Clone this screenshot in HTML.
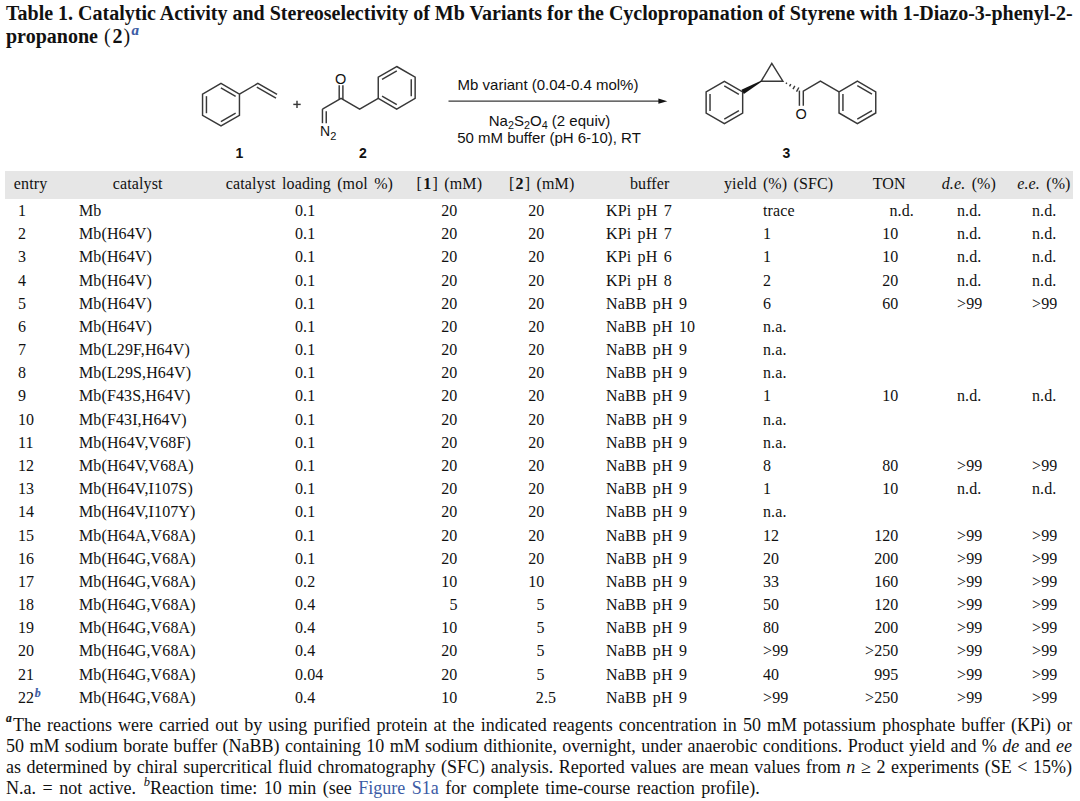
<!DOCTYPE html>
<html><head><meta charset="utf-8"><style>
html,body{margin:0;padding:0;background:#fff;}
body{width:1080px;height:801px;position:relative;overflow:hidden;color:#111;}
.t{position:absolute;white-space:nowrap;-webkit-text-stroke:0;}
.sup{font-size:70%;vertical-align:0.45em;line-height:0;}
.tb{letter-spacing:0.12px;word-spacing:2.2px;}
.sb{font-size:72%;position:relative;top:3px;}
svg{position:absolute;left:0;top:0;}
</style></head><body>
<svg width="1080" height="801" viewBox="0 0 1080 801" stroke="#383838" stroke-width="1.45" stroke-linecap="butt" stroke-linejoin="miter"><polygon fill="none" points="221.00,83.40 239.45,94.05 239.45,115.35 221.00,126.00 202.55,115.35 202.55,94.05"/><line x1="220.89" y1="87.84" x2="235.65" y2="96.36" stroke-width="1.45"/><line x1="235.65" y1="113.04" x2="220.89" y2="121.56" stroke-width="1.45"/><line x1="206.45" y1="113.22" x2="206.45" y2="96.18" stroke-width="1.45"/><polyline fill="none" points="239.45,94.05 257.85,83.40 277.05,94.40"/><line x1="256.80" y1="87.16" x2="276.00" y2="98.16" stroke-width="1.45"/><line x1="293.3" y1="104.4" x2="300.7" y2="104.4"/><line x1="297" y1="100.7" x2="297" y2="108.1"/><polygon fill="none" points="396.70,66.50 415.15,77.15 415.15,98.45 396.70,109.10 378.25,98.45 378.25,77.15"/><line x1="382.05" y1="79.46" x2="396.81" y2="70.94" stroke-width="1.45"/><line x1="411.25" y1="79.28" x2="411.25" y2="96.32" stroke-width="1.45"/><line x1="396.81" y1="104.66" x2="382.05" y2="96.14" stroke-width="1.45"/><polyline fill="none" points="378.25,98.45 359.65,109.05 341.05,98.45 322.45,109.05"/><line x1="339.20" y1="85.20" x2="339.20" y2="99.05" stroke-width="1.45"/><line x1="342.90" y1="85.20" x2="342.90" y2="99.05" stroke-width="1.45"/><line x1="322.45" y1="109.05" x2="322.45" y2="123.20" stroke-width="1.45"/><line x1="326.25" y1="111.25" x2="326.25" y2="123.20" stroke-width="1.45"/><polygon fill="none" points="724.40,81.40 742.67,91.95 742.67,113.05 724.40,123.60 706.13,113.05 706.13,91.95"/><line x1="724.28" y1="85.83" x2="738.90" y2="94.27" stroke-width="1.45"/><line x1="738.90" y1="110.73" x2="724.28" y2="119.17" stroke-width="1.45"/><line x1="710.03" y1="110.94" x2="710.03" y2="94.06" stroke-width="1.45"/><polygon fill="none" points="857.40,81.20 875.76,91.80 875.76,113.00 857.40,123.60 839.04,113.00 839.04,91.80"/><line x1="857.29" y1="85.64" x2="871.97" y2="94.12" stroke-width="1.45"/><line x1="871.97" y1="110.68" x2="857.29" y2="119.16" stroke-width="1.45"/><line x1="842.94" y1="110.88" x2="842.94" y2="93.92" stroke-width="1.45"/><polygon fill="none" points="761.2,81.2 771.8,63.3 782.9,81.2"/><polygon fill="#141414" stroke="none" points="760.90,80.68 761.50,81.72 743.88,94.03 741.47,89.87"/><line x1="786.04" y1="83.85" x2="786.79" y2="82.54" stroke-width="1.4"/><line x1="789.53" y1="86.46" x2="790.81" y2="84.20" stroke-width="1.4"/><line x1="793.01" y1="89.07" x2="794.84" y2="85.85" stroke-width="1.4"/><line x1="796.50" y1="91.68" x2="798.87" y2="87.50" stroke-width="1.4"/><polyline fill="none" points="803.30,105.80 803.30,91.20 820.40,81.10 839.04,91.80"/><line x1="799.40" y1="90.60" x2="799.40" y2="105.80" stroke-width="1.45"/><line x1="448.50" y1="101.20" x2="660.00" y2="101.20" stroke-width="1.3"/><polygon fill="#141414" stroke="none" points="667.3,101.2 658.4,98.6 658.4,103.8"/></svg>
<div class="t " style="left:6.00px;top:3.20px;font-size:20px;line-height:20px;font-family:'Liberation Serif', serif;font-weight:bold;white-space:nowrap;">Table 1. Catalytic Activity and Stereoselectivity of Mb Variants for the Cyclopropanation of Styrene with 1-Diazo-3-phenyl-2-</div>
<div class="t " style="left:6.00px;top:26.20px;font-size:20px;line-height:20px;font-family:'Liberation Serif', serif;font-weight:bold;white-space:nowrap;">propanone<span style="margin-left:1px"> </span><span style="font-weight:normal">(</span><span style="margin:0 1px 0 2px">2</span><span style="font-weight:normal">)</span><span style="font-weight:bold;font-style:italic;font-size:15px;position:relative;top:-8.5px;color:#3b5ba5;margin-left:1.2px;-webkit-text-stroke:0.15px currentColor;">a</span></div>
<div style="position:absolute;left:5px;top:171px;width:1068px;height:28px;background:#e6e6e6;"></div>
<div class="t tb" style="left:-89.45px;width:240px;text-align:center;top:176.20px;font-size:16px;line-height:16px;font-family:'Liberation Serif', serif;">entry</div>
<div class="t tb" style="left:17.75px;width:240px;text-align:center;top:176.20px;font-size:16px;line-height:16px;font-family:'Liberation Serif', serif;">catalyst</div>
<div class="t tb" style="left:189.45px;width:240px;text-align:center;top:176.20px;font-size:16px;line-height:16px;font-family:'Liberation Serif', serif;">catalyst loading (mol %)</div>
<div class="t tb" style="left:329.35px;width:240px;text-align:center;top:176.20px;font-size:16px;line-height:16px;font-family:'Liberation Serif', serif;">[<b style="margin:0 1.2px">1</b>] (mM)</div>
<div class="t tb" style="left:421.65px;width:240px;text-align:center;top:176.20px;font-size:16px;line-height:16px;font-family:'Liberation Serif', serif;">[<b style="margin:0 1.2px">2</b>] (mM)</div>
<div class="t tb" style="left:529.70px;width:240px;text-align:center;top:176.20px;font-size:16px;line-height:16px;font-family:'Liberation Serif', serif;">buffer</div>
<div class="t tb" style="left:658.65px;width:240px;text-align:center;top:176.20px;font-size:16px;line-height:16px;font-family:'Liberation Serif', serif;">yield (%) (SFC)</div>
<div class="t tb" style="left:769.20px;width:240px;text-align:center;top:176.20px;font-size:16px;line-height:16px;font-family:'Liberation Serif', serif;">TON</div>
<div class="t tb" style="left:848.90px;width:240px;text-align:center;top:176.20px;font-size:16px;line-height:16px;font-family:'Liberation Serif', serif;"><i>d.e.</i> (%)</div>
<div class="t tb" style="left:923.90px;width:240px;text-align:center;top:176.20px;font-size:16px;line-height:16px;font-family:'Liberation Serif', serif;"><i>e.e.</i> (%)</div>
<div class="t tb" style="left:18.00px;top:203.20px;font-size:16px;line-height:16px;font-family:'Liberation Serif', serif;">1</div>
<div class="t tb" style="left:79.00px;top:203.20px;font-size:16px;line-height:16px;font-family:'Liberation Serif', serif;">Mb</div>
<div class="t tb" style="left:295.00px;top:203.20px;font-size:16px;line-height:16px;font-family:'Liberation Serif', serif;">0.1</div>
<div class="t tb" style="left:397.50px;width:60px;text-align:right;top:203.20px;font-size:16px;line-height:16px;font-family:'Liberation Serif', serif;">20</div>
<div class="t tb" style="left:484.50px;width:60px;text-align:right;top:203.20px;font-size:16px;line-height:16px;font-family:'Liberation Serif', serif;">20</div>
<div class="t tb" style="left:606.00px;top:203.20px;font-size:16px;line-height:16px;font-family:'Liberation Serif', serif;">KPi pH 7</div>
<div class="t tb" style="left:763.00px;top:203.20px;font-size:16px;line-height:16px;font-family:'Liberation Serif', serif;">trace</div>
<div class="t tb" style="left:889.50px;top:203.20px;font-size:16px;line-height:16px;font-family:'Liberation Serif', serif;">n.d.</div>
<div class="t tb" style="left:957.00px;top:203.20px;font-size:16px;line-height:16px;font-family:'Liberation Serif', serif;">n.d.</div>
<div class="t tb" style="left:1032.00px;top:203.20px;font-size:16px;line-height:16px;font-family:'Liberation Serif', serif;">n.d.</div>
<div class="t tb" style="left:18.00px;top:226.20px;font-size:16px;line-height:16px;font-family:'Liberation Serif', serif;">2</div>
<div class="t tb" style="left:79.00px;top:226.20px;font-size:16px;line-height:16px;font-family:'Liberation Serif', serif;">Mb(H64V)</div>
<div class="t tb" style="left:295.00px;top:226.20px;font-size:16px;line-height:16px;font-family:'Liberation Serif', serif;">0.1</div>
<div class="t tb" style="left:397.50px;width:60px;text-align:right;top:226.20px;font-size:16px;line-height:16px;font-family:'Liberation Serif', serif;">20</div>
<div class="t tb" style="left:484.50px;width:60px;text-align:right;top:226.20px;font-size:16px;line-height:16px;font-family:'Liberation Serif', serif;">20</div>
<div class="t tb" style="left:606.00px;top:226.20px;font-size:16px;line-height:16px;font-family:'Liberation Serif', serif;">KPi pH 7</div>
<div class="t tb" style="left:763.00px;top:226.20px;font-size:16px;line-height:16px;font-family:'Liberation Serif', serif;">1</div>
<div class="t tb" style="left:838.50px;width:60px;text-align:right;top:226.20px;font-size:16px;line-height:16px;font-family:'Liberation Serif', serif;">10</div>
<div class="t tb" style="left:957.00px;top:226.20px;font-size:16px;line-height:16px;font-family:'Liberation Serif', serif;">n.d.</div>
<div class="t tb" style="left:1032.00px;top:226.20px;font-size:16px;line-height:16px;font-family:'Liberation Serif', serif;">n.d.</div>
<div class="t tb" style="left:18.00px;top:249.20px;font-size:16px;line-height:16px;font-family:'Liberation Serif', serif;">3</div>
<div class="t tb" style="left:79.00px;top:249.20px;font-size:16px;line-height:16px;font-family:'Liberation Serif', serif;">Mb(H64V)</div>
<div class="t tb" style="left:295.00px;top:249.20px;font-size:16px;line-height:16px;font-family:'Liberation Serif', serif;">0.1</div>
<div class="t tb" style="left:397.50px;width:60px;text-align:right;top:249.20px;font-size:16px;line-height:16px;font-family:'Liberation Serif', serif;">20</div>
<div class="t tb" style="left:484.50px;width:60px;text-align:right;top:249.20px;font-size:16px;line-height:16px;font-family:'Liberation Serif', serif;">20</div>
<div class="t tb" style="left:606.00px;top:249.20px;font-size:16px;line-height:16px;font-family:'Liberation Serif', serif;">KPi pH 6</div>
<div class="t tb" style="left:763.00px;top:249.20px;font-size:16px;line-height:16px;font-family:'Liberation Serif', serif;">1</div>
<div class="t tb" style="left:838.50px;width:60px;text-align:right;top:249.20px;font-size:16px;line-height:16px;font-family:'Liberation Serif', serif;">10</div>
<div class="t tb" style="left:957.00px;top:249.20px;font-size:16px;line-height:16px;font-family:'Liberation Serif', serif;">n.d.</div>
<div class="t tb" style="left:1032.00px;top:249.20px;font-size:16px;line-height:16px;font-family:'Liberation Serif', serif;">n.d.</div>
<div class="t tb" style="left:18.00px;top:273.20px;font-size:16px;line-height:16px;font-family:'Liberation Serif', serif;">4</div>
<div class="t tb" style="left:79.00px;top:273.20px;font-size:16px;line-height:16px;font-family:'Liberation Serif', serif;">Mb(H64V)</div>
<div class="t tb" style="left:295.00px;top:273.20px;font-size:16px;line-height:16px;font-family:'Liberation Serif', serif;">0.1</div>
<div class="t tb" style="left:397.50px;width:60px;text-align:right;top:273.20px;font-size:16px;line-height:16px;font-family:'Liberation Serif', serif;">20</div>
<div class="t tb" style="left:484.50px;width:60px;text-align:right;top:273.20px;font-size:16px;line-height:16px;font-family:'Liberation Serif', serif;">20</div>
<div class="t tb" style="left:606.00px;top:273.20px;font-size:16px;line-height:16px;font-family:'Liberation Serif', serif;">KPi pH 8</div>
<div class="t tb" style="left:763.00px;top:273.20px;font-size:16px;line-height:16px;font-family:'Liberation Serif', serif;">2</div>
<div class="t tb" style="left:838.50px;width:60px;text-align:right;top:273.20px;font-size:16px;line-height:16px;font-family:'Liberation Serif', serif;">20</div>
<div class="t tb" style="left:957.00px;top:273.20px;font-size:16px;line-height:16px;font-family:'Liberation Serif', serif;">n.d.</div>
<div class="t tb" style="left:1032.00px;top:273.20px;font-size:16px;line-height:16px;font-family:'Liberation Serif', serif;">n.d.</div>
<div class="t tb" style="left:18.00px;top:296.20px;font-size:16px;line-height:16px;font-family:'Liberation Serif', serif;">5</div>
<div class="t tb" style="left:79.00px;top:296.20px;font-size:16px;line-height:16px;font-family:'Liberation Serif', serif;">Mb(H64V)</div>
<div class="t tb" style="left:295.00px;top:296.20px;font-size:16px;line-height:16px;font-family:'Liberation Serif', serif;">0.1</div>
<div class="t tb" style="left:397.50px;width:60px;text-align:right;top:296.20px;font-size:16px;line-height:16px;font-family:'Liberation Serif', serif;">20</div>
<div class="t tb" style="left:484.50px;width:60px;text-align:right;top:296.20px;font-size:16px;line-height:16px;font-family:'Liberation Serif', serif;">20</div>
<div class="t tb" style="left:606.00px;top:296.20px;font-size:16px;line-height:16px;font-family:'Liberation Serif', serif;">NaBB pH 9</div>
<div class="t tb" style="left:763.00px;top:296.20px;font-size:16px;line-height:16px;font-family:'Liberation Serif', serif;">6</div>
<div class="t tb" style="left:838.50px;width:60px;text-align:right;top:296.20px;font-size:16px;line-height:16px;font-family:'Liberation Serif', serif;">60</div>
<div class="t tb" style="left:957.00px;top:296.20px;font-size:16px;line-height:16px;font-family:'Liberation Serif', serif;">&gt;99</div>
<div class="t tb" style="left:1032.00px;top:296.20px;font-size:16px;line-height:16px;font-family:'Liberation Serif', serif;">&gt;99</div>
<div class="t tb" style="left:18.00px;top:319.20px;font-size:16px;line-height:16px;font-family:'Liberation Serif', serif;">6</div>
<div class="t tb" style="left:79.00px;top:319.20px;font-size:16px;line-height:16px;font-family:'Liberation Serif', serif;">Mb(H64V)</div>
<div class="t tb" style="left:295.00px;top:319.20px;font-size:16px;line-height:16px;font-family:'Liberation Serif', serif;">0.1</div>
<div class="t tb" style="left:397.50px;width:60px;text-align:right;top:319.20px;font-size:16px;line-height:16px;font-family:'Liberation Serif', serif;">20</div>
<div class="t tb" style="left:484.50px;width:60px;text-align:right;top:319.20px;font-size:16px;line-height:16px;font-family:'Liberation Serif', serif;">20</div>
<div class="t tb" style="left:606.00px;top:319.20px;font-size:16px;line-height:16px;font-family:'Liberation Serif', serif;">NaBB pH 10</div>
<div class="t tb" style="left:763.00px;top:319.20px;font-size:16px;line-height:16px;font-family:'Liberation Serif', serif;">n.a.</div>
<div class="t tb" style="left:18.00px;top:342.20px;font-size:16px;line-height:16px;font-family:'Liberation Serif', serif;">7</div>
<div class="t tb" style="left:79.00px;top:342.20px;font-size:16px;line-height:16px;font-family:'Liberation Serif', serif;">Mb(L29F,H64V)</div>
<div class="t tb" style="left:295.00px;top:342.20px;font-size:16px;line-height:16px;font-family:'Liberation Serif', serif;">0.1</div>
<div class="t tb" style="left:397.50px;width:60px;text-align:right;top:342.20px;font-size:16px;line-height:16px;font-family:'Liberation Serif', serif;">20</div>
<div class="t tb" style="left:484.50px;width:60px;text-align:right;top:342.20px;font-size:16px;line-height:16px;font-family:'Liberation Serif', serif;">20</div>
<div class="t tb" style="left:606.00px;top:342.20px;font-size:16px;line-height:16px;font-family:'Liberation Serif', serif;">NaBB pH 9</div>
<div class="t tb" style="left:763.00px;top:342.20px;font-size:16px;line-height:16px;font-family:'Liberation Serif', serif;">n.a.</div>
<div class="t tb" style="left:18.00px;top:365.20px;font-size:16px;line-height:16px;font-family:'Liberation Serif', serif;">8</div>
<div class="t tb" style="left:79.00px;top:365.20px;font-size:16px;line-height:16px;font-family:'Liberation Serif', serif;">Mb(L29S,H64V)</div>
<div class="t tb" style="left:295.00px;top:365.20px;font-size:16px;line-height:16px;font-family:'Liberation Serif', serif;">0.1</div>
<div class="t tb" style="left:397.50px;width:60px;text-align:right;top:365.20px;font-size:16px;line-height:16px;font-family:'Liberation Serif', serif;">20</div>
<div class="t tb" style="left:484.50px;width:60px;text-align:right;top:365.20px;font-size:16px;line-height:16px;font-family:'Liberation Serif', serif;">20</div>
<div class="t tb" style="left:606.00px;top:365.20px;font-size:16px;line-height:16px;font-family:'Liberation Serif', serif;">NaBB pH 9</div>
<div class="t tb" style="left:763.00px;top:365.20px;font-size:16px;line-height:16px;font-family:'Liberation Serif', serif;">n.a.</div>
<div class="t tb" style="left:18.00px;top:388.20px;font-size:16px;line-height:16px;font-family:'Liberation Serif', serif;">9</div>
<div class="t tb" style="left:79.00px;top:388.20px;font-size:16px;line-height:16px;font-family:'Liberation Serif', serif;">Mb(F43S,H64V)</div>
<div class="t tb" style="left:295.00px;top:388.20px;font-size:16px;line-height:16px;font-family:'Liberation Serif', serif;">0.1</div>
<div class="t tb" style="left:397.50px;width:60px;text-align:right;top:388.20px;font-size:16px;line-height:16px;font-family:'Liberation Serif', serif;">20</div>
<div class="t tb" style="left:484.50px;width:60px;text-align:right;top:388.20px;font-size:16px;line-height:16px;font-family:'Liberation Serif', serif;">20</div>
<div class="t tb" style="left:606.00px;top:388.20px;font-size:16px;line-height:16px;font-family:'Liberation Serif', serif;">NaBB pH 9</div>
<div class="t tb" style="left:763.00px;top:388.20px;font-size:16px;line-height:16px;font-family:'Liberation Serif', serif;">1</div>
<div class="t tb" style="left:838.50px;width:60px;text-align:right;top:388.20px;font-size:16px;line-height:16px;font-family:'Liberation Serif', serif;">10</div>
<div class="t tb" style="left:957.00px;top:388.20px;font-size:16px;line-height:16px;font-family:'Liberation Serif', serif;">n.d.</div>
<div class="t tb" style="left:1032.00px;top:388.20px;font-size:16px;line-height:16px;font-family:'Liberation Serif', serif;">n.d.</div>
<div class="t tb" style="left:18.00px;top:412.20px;font-size:16px;line-height:16px;font-family:'Liberation Serif', serif;">10</div>
<div class="t tb" style="left:79.00px;top:412.20px;font-size:16px;line-height:16px;font-family:'Liberation Serif', serif;">Mb(F43I,H64V)</div>
<div class="t tb" style="left:295.00px;top:412.20px;font-size:16px;line-height:16px;font-family:'Liberation Serif', serif;">0.1</div>
<div class="t tb" style="left:397.50px;width:60px;text-align:right;top:412.20px;font-size:16px;line-height:16px;font-family:'Liberation Serif', serif;">20</div>
<div class="t tb" style="left:484.50px;width:60px;text-align:right;top:412.20px;font-size:16px;line-height:16px;font-family:'Liberation Serif', serif;">20</div>
<div class="t tb" style="left:606.00px;top:412.20px;font-size:16px;line-height:16px;font-family:'Liberation Serif', serif;">NaBB pH 9</div>
<div class="t tb" style="left:763.00px;top:412.20px;font-size:16px;line-height:16px;font-family:'Liberation Serif', serif;">n.a.</div>
<div class="t tb" style="left:18.00px;top:435.20px;font-size:16px;line-height:16px;font-family:'Liberation Serif', serif;">11</div>
<div class="t tb" style="left:79.00px;top:435.20px;font-size:16px;line-height:16px;font-family:'Liberation Serif', serif;">Mb(H64V,V68F)</div>
<div class="t tb" style="left:295.00px;top:435.20px;font-size:16px;line-height:16px;font-family:'Liberation Serif', serif;">0.1</div>
<div class="t tb" style="left:397.50px;width:60px;text-align:right;top:435.20px;font-size:16px;line-height:16px;font-family:'Liberation Serif', serif;">20</div>
<div class="t tb" style="left:484.50px;width:60px;text-align:right;top:435.20px;font-size:16px;line-height:16px;font-family:'Liberation Serif', serif;">20</div>
<div class="t tb" style="left:606.00px;top:435.20px;font-size:16px;line-height:16px;font-family:'Liberation Serif', serif;">NaBB pH 9</div>
<div class="t tb" style="left:763.00px;top:435.20px;font-size:16px;line-height:16px;font-family:'Liberation Serif', serif;">n.a.</div>
<div class="t tb" style="left:18.00px;top:458.20px;font-size:16px;line-height:16px;font-family:'Liberation Serif', serif;">12</div>
<div class="t tb" style="left:79.00px;top:458.20px;font-size:16px;line-height:16px;font-family:'Liberation Serif', serif;">Mb(H64V,V68A)</div>
<div class="t tb" style="left:295.00px;top:458.20px;font-size:16px;line-height:16px;font-family:'Liberation Serif', serif;">0.1</div>
<div class="t tb" style="left:397.50px;width:60px;text-align:right;top:458.20px;font-size:16px;line-height:16px;font-family:'Liberation Serif', serif;">20</div>
<div class="t tb" style="left:484.50px;width:60px;text-align:right;top:458.20px;font-size:16px;line-height:16px;font-family:'Liberation Serif', serif;">20</div>
<div class="t tb" style="left:606.00px;top:458.20px;font-size:16px;line-height:16px;font-family:'Liberation Serif', serif;">NaBB pH 9</div>
<div class="t tb" style="left:763.00px;top:458.20px;font-size:16px;line-height:16px;font-family:'Liberation Serif', serif;">8</div>
<div class="t tb" style="left:838.50px;width:60px;text-align:right;top:458.20px;font-size:16px;line-height:16px;font-family:'Liberation Serif', serif;">80</div>
<div class="t tb" style="left:957.00px;top:458.20px;font-size:16px;line-height:16px;font-family:'Liberation Serif', serif;">&gt;99</div>
<div class="t tb" style="left:1032.00px;top:458.20px;font-size:16px;line-height:16px;font-family:'Liberation Serif', serif;">&gt;99</div>
<div class="t tb" style="left:18.00px;top:481.20px;font-size:16px;line-height:16px;font-family:'Liberation Serif', serif;">13</div>
<div class="t tb" style="left:79.00px;top:481.20px;font-size:16px;line-height:16px;font-family:'Liberation Serif', serif;">Mb(H64V,I107S)</div>
<div class="t tb" style="left:295.00px;top:481.20px;font-size:16px;line-height:16px;font-family:'Liberation Serif', serif;">0.1</div>
<div class="t tb" style="left:397.50px;width:60px;text-align:right;top:481.20px;font-size:16px;line-height:16px;font-family:'Liberation Serif', serif;">20</div>
<div class="t tb" style="left:484.50px;width:60px;text-align:right;top:481.20px;font-size:16px;line-height:16px;font-family:'Liberation Serif', serif;">20</div>
<div class="t tb" style="left:606.00px;top:481.20px;font-size:16px;line-height:16px;font-family:'Liberation Serif', serif;">NaBB pH 9</div>
<div class="t tb" style="left:763.00px;top:481.20px;font-size:16px;line-height:16px;font-family:'Liberation Serif', serif;">1</div>
<div class="t tb" style="left:838.50px;width:60px;text-align:right;top:481.20px;font-size:16px;line-height:16px;font-family:'Liberation Serif', serif;">10</div>
<div class="t tb" style="left:957.00px;top:481.20px;font-size:16px;line-height:16px;font-family:'Liberation Serif', serif;">n.d.</div>
<div class="t tb" style="left:1032.00px;top:481.20px;font-size:16px;line-height:16px;font-family:'Liberation Serif', serif;">n.d.</div>
<div class="t tb" style="left:18.00px;top:504.20px;font-size:16px;line-height:16px;font-family:'Liberation Serif', serif;">14</div>
<div class="t tb" style="left:79.00px;top:504.20px;font-size:16px;line-height:16px;font-family:'Liberation Serif', serif;">Mb(H64V,I107Y)</div>
<div class="t tb" style="left:295.00px;top:504.20px;font-size:16px;line-height:16px;font-family:'Liberation Serif', serif;">0.1</div>
<div class="t tb" style="left:397.50px;width:60px;text-align:right;top:504.20px;font-size:16px;line-height:16px;font-family:'Liberation Serif', serif;">20</div>
<div class="t tb" style="left:484.50px;width:60px;text-align:right;top:504.20px;font-size:16px;line-height:16px;font-family:'Liberation Serif', serif;">20</div>
<div class="t tb" style="left:606.00px;top:504.20px;font-size:16px;line-height:16px;font-family:'Liberation Serif', serif;">NaBB pH 9</div>
<div class="t tb" style="left:763.00px;top:504.20px;font-size:16px;line-height:16px;font-family:'Liberation Serif', serif;">n.a.</div>
<div class="t tb" style="left:18.00px;top:528.20px;font-size:16px;line-height:16px;font-family:'Liberation Serif', serif;">15</div>
<div class="t tb" style="left:79.00px;top:528.20px;font-size:16px;line-height:16px;font-family:'Liberation Serif', serif;">Mb(H64A,V68A)</div>
<div class="t tb" style="left:295.00px;top:528.20px;font-size:16px;line-height:16px;font-family:'Liberation Serif', serif;">0.1</div>
<div class="t tb" style="left:397.50px;width:60px;text-align:right;top:528.20px;font-size:16px;line-height:16px;font-family:'Liberation Serif', serif;">20</div>
<div class="t tb" style="left:484.50px;width:60px;text-align:right;top:528.20px;font-size:16px;line-height:16px;font-family:'Liberation Serif', serif;">20</div>
<div class="t tb" style="left:606.00px;top:528.20px;font-size:16px;line-height:16px;font-family:'Liberation Serif', serif;">NaBB pH 9</div>
<div class="t tb" style="left:763.00px;top:528.20px;font-size:16px;line-height:16px;font-family:'Liberation Serif', serif;">12</div>
<div class="t tb" style="left:838.50px;width:60px;text-align:right;top:528.20px;font-size:16px;line-height:16px;font-family:'Liberation Serif', serif;">120</div>
<div class="t tb" style="left:957.00px;top:528.20px;font-size:16px;line-height:16px;font-family:'Liberation Serif', serif;">&gt;99</div>
<div class="t tb" style="left:1032.00px;top:528.20px;font-size:16px;line-height:16px;font-family:'Liberation Serif', serif;">&gt;99</div>
<div class="t tb" style="left:18.00px;top:551.20px;font-size:16px;line-height:16px;font-family:'Liberation Serif', serif;">16</div>
<div class="t tb" style="left:79.00px;top:551.20px;font-size:16px;line-height:16px;font-family:'Liberation Serif', serif;">Mb(H64G,V68A)</div>
<div class="t tb" style="left:295.00px;top:551.20px;font-size:16px;line-height:16px;font-family:'Liberation Serif', serif;">0.1</div>
<div class="t tb" style="left:397.50px;width:60px;text-align:right;top:551.20px;font-size:16px;line-height:16px;font-family:'Liberation Serif', serif;">20</div>
<div class="t tb" style="left:484.50px;width:60px;text-align:right;top:551.20px;font-size:16px;line-height:16px;font-family:'Liberation Serif', serif;">20</div>
<div class="t tb" style="left:606.00px;top:551.20px;font-size:16px;line-height:16px;font-family:'Liberation Serif', serif;">NaBB pH 9</div>
<div class="t tb" style="left:763.00px;top:551.20px;font-size:16px;line-height:16px;font-family:'Liberation Serif', serif;">20</div>
<div class="t tb" style="left:838.50px;width:60px;text-align:right;top:551.20px;font-size:16px;line-height:16px;font-family:'Liberation Serif', serif;">200</div>
<div class="t tb" style="left:957.00px;top:551.20px;font-size:16px;line-height:16px;font-family:'Liberation Serif', serif;">&gt;99</div>
<div class="t tb" style="left:1032.00px;top:551.20px;font-size:16px;line-height:16px;font-family:'Liberation Serif', serif;">&gt;99</div>
<div class="t tb" style="left:18.00px;top:574.20px;font-size:16px;line-height:16px;font-family:'Liberation Serif', serif;">17</div>
<div class="t tb" style="left:79.00px;top:574.20px;font-size:16px;line-height:16px;font-family:'Liberation Serif', serif;">Mb(H64G,V68A)</div>
<div class="t tb" style="left:295.00px;top:574.20px;font-size:16px;line-height:16px;font-family:'Liberation Serif', serif;">0.2</div>
<div class="t tb" style="left:397.50px;width:60px;text-align:right;top:574.20px;font-size:16px;line-height:16px;font-family:'Liberation Serif', serif;">10</div>
<div class="t tb" style="left:484.50px;width:60px;text-align:right;top:574.20px;font-size:16px;line-height:16px;font-family:'Liberation Serif', serif;">10</div>
<div class="t tb" style="left:606.00px;top:574.20px;font-size:16px;line-height:16px;font-family:'Liberation Serif', serif;">NaBB pH 9</div>
<div class="t tb" style="left:763.00px;top:574.20px;font-size:16px;line-height:16px;font-family:'Liberation Serif', serif;">33</div>
<div class="t tb" style="left:838.50px;width:60px;text-align:right;top:574.20px;font-size:16px;line-height:16px;font-family:'Liberation Serif', serif;">160</div>
<div class="t tb" style="left:957.00px;top:574.20px;font-size:16px;line-height:16px;font-family:'Liberation Serif', serif;">&gt;99</div>
<div class="t tb" style="left:1032.00px;top:574.20px;font-size:16px;line-height:16px;font-family:'Liberation Serif', serif;">&gt;99</div>
<div class="t tb" style="left:18.00px;top:597.20px;font-size:16px;line-height:16px;font-family:'Liberation Serif', serif;">18</div>
<div class="t tb" style="left:79.00px;top:597.20px;font-size:16px;line-height:16px;font-family:'Liberation Serif', serif;">Mb(H64G,V68A)</div>
<div class="t tb" style="left:295.00px;top:597.20px;font-size:16px;line-height:16px;font-family:'Liberation Serif', serif;">0.4</div>
<div class="t tb" style="left:397.50px;width:60px;text-align:right;top:597.20px;font-size:16px;line-height:16px;font-family:'Liberation Serif', serif;">5</div>
<div class="t tb" style="left:484.50px;width:60px;text-align:right;top:597.20px;font-size:16px;line-height:16px;font-family:'Liberation Serif', serif;">5</div>
<div class="t tb" style="left:606.00px;top:597.20px;font-size:16px;line-height:16px;font-family:'Liberation Serif', serif;">NaBB pH 9</div>
<div class="t tb" style="left:763.00px;top:597.20px;font-size:16px;line-height:16px;font-family:'Liberation Serif', serif;">50</div>
<div class="t tb" style="left:838.50px;width:60px;text-align:right;top:597.20px;font-size:16px;line-height:16px;font-family:'Liberation Serif', serif;">120</div>
<div class="t tb" style="left:957.00px;top:597.20px;font-size:16px;line-height:16px;font-family:'Liberation Serif', serif;">&gt;99</div>
<div class="t tb" style="left:1032.00px;top:597.20px;font-size:16px;line-height:16px;font-family:'Liberation Serif', serif;">&gt;99</div>
<div class="t tb" style="left:18.00px;top:620.20px;font-size:16px;line-height:16px;font-family:'Liberation Serif', serif;">19</div>
<div class="t tb" style="left:79.00px;top:620.20px;font-size:16px;line-height:16px;font-family:'Liberation Serif', serif;">Mb(H64G,V68A)</div>
<div class="t tb" style="left:295.00px;top:620.20px;font-size:16px;line-height:16px;font-family:'Liberation Serif', serif;">0.4</div>
<div class="t tb" style="left:397.50px;width:60px;text-align:right;top:620.20px;font-size:16px;line-height:16px;font-family:'Liberation Serif', serif;">10</div>
<div class="t tb" style="left:484.50px;width:60px;text-align:right;top:620.20px;font-size:16px;line-height:16px;font-family:'Liberation Serif', serif;">5</div>
<div class="t tb" style="left:606.00px;top:620.20px;font-size:16px;line-height:16px;font-family:'Liberation Serif', serif;">NaBB pH 9</div>
<div class="t tb" style="left:763.00px;top:620.20px;font-size:16px;line-height:16px;font-family:'Liberation Serif', serif;">80</div>
<div class="t tb" style="left:838.50px;width:60px;text-align:right;top:620.20px;font-size:16px;line-height:16px;font-family:'Liberation Serif', serif;">200</div>
<div class="t tb" style="left:957.00px;top:620.20px;font-size:16px;line-height:16px;font-family:'Liberation Serif', serif;">&gt;99</div>
<div class="t tb" style="left:1032.00px;top:620.20px;font-size:16px;line-height:16px;font-family:'Liberation Serif', serif;">&gt;99</div>
<div class="t tb" style="left:18.00px;top:643.20px;font-size:16px;line-height:16px;font-family:'Liberation Serif', serif;">20</div>
<div class="t tb" style="left:79.00px;top:643.20px;font-size:16px;line-height:16px;font-family:'Liberation Serif', serif;">Mb(H64G,V68A)</div>
<div class="t tb" style="left:295.00px;top:643.20px;font-size:16px;line-height:16px;font-family:'Liberation Serif', serif;">0.4</div>
<div class="t tb" style="left:397.50px;width:60px;text-align:right;top:643.20px;font-size:16px;line-height:16px;font-family:'Liberation Serif', serif;">20</div>
<div class="t tb" style="left:484.50px;width:60px;text-align:right;top:643.20px;font-size:16px;line-height:16px;font-family:'Liberation Serif', serif;">5</div>
<div class="t tb" style="left:606.00px;top:643.20px;font-size:16px;line-height:16px;font-family:'Liberation Serif', serif;">NaBB pH 9</div>
<div class="t tb" style="left:763.00px;top:643.20px;font-size:16px;line-height:16px;font-family:'Liberation Serif', serif;">&gt;99</div>
<div class="t tb" style="left:838.50px;width:60px;text-align:right;top:643.20px;font-size:16px;line-height:16px;font-family:'Liberation Serif', serif;">&gt;250</div>
<div class="t tb" style="left:957.00px;top:643.20px;font-size:16px;line-height:16px;font-family:'Liberation Serif', serif;">&gt;99</div>
<div class="t tb" style="left:1032.00px;top:643.20px;font-size:16px;line-height:16px;font-family:'Liberation Serif', serif;">&gt;99</div>
<div class="t tb" style="left:18.00px;top:667.20px;font-size:16px;line-height:16px;font-family:'Liberation Serif', serif;">21</div>
<div class="t tb" style="left:79.00px;top:667.20px;font-size:16px;line-height:16px;font-family:'Liberation Serif', serif;">Mb(H64G,V68A)</div>
<div class="t tb" style="left:295.00px;top:667.20px;font-size:16px;line-height:16px;font-family:'Liberation Serif', serif;">0.04</div>
<div class="t tb" style="left:397.50px;width:60px;text-align:right;top:667.20px;font-size:16px;line-height:16px;font-family:'Liberation Serif', serif;">20</div>
<div class="t tb" style="left:484.50px;width:60px;text-align:right;top:667.20px;font-size:16px;line-height:16px;font-family:'Liberation Serif', serif;">5</div>
<div class="t tb" style="left:606.00px;top:667.20px;font-size:16px;line-height:16px;font-family:'Liberation Serif', serif;">NaBB pH 9</div>
<div class="t tb" style="left:763.00px;top:667.20px;font-size:16px;line-height:16px;font-family:'Liberation Serif', serif;">40</div>
<div class="t tb" style="left:838.50px;width:60px;text-align:right;top:667.20px;font-size:16px;line-height:16px;font-family:'Liberation Serif', serif;">995</div>
<div class="t tb" style="left:957.00px;top:667.20px;font-size:16px;line-height:16px;font-family:'Liberation Serif', serif;">&gt;99</div>
<div class="t tb" style="left:1032.00px;top:667.20px;font-size:16px;line-height:16px;font-family:'Liberation Serif', serif;">&gt;99</div>
<div class="t tb" style="left:18.00px;top:690.20px;font-size:16px;line-height:16px;font-family:'Liberation Serif', serif;">22<span style="font-weight:bold;font-style:italic;font-size:12px;position:relative;top:-6.5px;color:#3b5ba5;margin-left:0.5px;-webkit-text-stroke:0.15px currentColor;">b</span></div>
<div class="t tb" style="left:79.00px;top:690.20px;font-size:16px;line-height:16px;font-family:'Liberation Serif', serif;">Mb(H64G,V68A)</div>
<div class="t tb" style="left:295.00px;top:690.20px;font-size:16px;line-height:16px;font-family:'Liberation Serif', serif;">0.4</div>
<div class="t tb" style="left:397.50px;width:60px;text-align:right;top:690.20px;font-size:16px;line-height:16px;font-family:'Liberation Serif', serif;">10</div>
<div class="t tb" style="left:535.80px;top:690.20px;font-size:16px;line-height:16px;font-family:'Liberation Serif', serif;">2.5</div>
<div class="t tb" style="left:606.00px;top:690.20px;font-size:16px;line-height:16px;font-family:'Liberation Serif', serif;">NaBB pH 9</div>
<div class="t tb" style="left:763.00px;top:690.20px;font-size:16px;line-height:16px;font-family:'Liberation Serif', serif;">&gt;99</div>
<div class="t tb" style="left:838.50px;width:60px;text-align:right;top:690.20px;font-size:16px;line-height:16px;font-family:'Liberation Serif', serif;">&gt;250</div>
<div class="t tb" style="left:957.00px;top:690.20px;font-size:16px;line-height:16px;font-family:'Liberation Serif', serif;">&gt;99</div>
<div class="t tb" style="left:1032.00px;top:690.20px;font-size:16px;line-height:16px;font-family:'Liberation Serif', serif;">&gt;99</div>
<div class="t " style="left:325.60px;width:30px;text-align:center;top:72.20px;font-size:14.5px;line-height:14.5px;font-family:'Liberation Sans', sans-serif;-webkit-text-stroke:0;">O</div>
<div class="t " style="left:320.00px;top:124.20px;font-size:14px;line-height:14px;font-family:'Liberation Sans', sans-serif;-webkit-text-stroke:0;">N<span style="font-size:11px;position:relative;top:3.5px;">2</span></div>
<div class="t " style="left:224.40px;width:30px;text-align:center;top:146.20px;font-size:14px;line-height:14px;font-family:'Liberation Sans', sans-serif;-webkit-text-stroke:0;font-weight:bold;">1</div>
<div class="t " style="left:347.80px;width:30px;text-align:center;top:146.20px;font-size:14px;line-height:14px;font-family:'Liberation Sans', sans-serif;-webkit-text-stroke:0;font-weight:bold;">2</div>
<div class="t " style="left:771.50px;width:30px;text-align:center;top:146.20px;font-size:14px;line-height:14px;font-family:'Liberation Sans', sans-serif;-webkit-text-stroke:0;font-weight:bold;">3</div>
<div class="t " style="left:786.20px;width:30px;text-align:center;top:107.20px;font-size:14.5px;line-height:14.5px;font-family:'Liberation Sans', sans-serif;-webkit-text-stroke:0;">O</div>
<div class="t " style="left:398.00px;width:300px;text-align:center;top:77.20px;font-size:15px;line-height:15px;font-family:'Liberation Sans', sans-serif;-webkit-text-stroke:0;">Mb variant (0.04-0.4 mol%)</div>
<div class="t " style="left:399.50px;width:300px;text-align:center;top:113.20px;font-size:15px;line-height:15px;font-family:'Liberation Sans', sans-serif;-webkit-text-stroke:0;">Na<span class="sb">2</span>S<span class="sb">2</span>O<span class="sb">4</span> (2 equiv)</div>
<div class="t " style="left:399.00px;width:300px;text-align:center;top:130.20px;font-size:15px;line-height:15px;font-family:'Liberation Sans', sans-serif;-webkit-text-stroke:0;">50 mM buffer (pH 6-10), RT</div>
<div class="t " style="left:6.00px;top:716.20px;font-size:18px;line-height:18px;font-family:'Liberation Serif', serif;width:1066px;text-align:justify;text-align-last:justify;white-space:nowrap;"><span style="font-weight:bold;font-style:italic;font-size:11.5px;position:relative;top:-9px;color:inherit;margin-left:0px;-webkit-text-stroke:0.15px currentColor;">a</span><span style="margin-left:1.2px"></span>The reactions were carried out by using purified protein at the indicated reagents concentration in 50 mM potassium phosphate buffer (KPi) or</div>
<div class="t " style="left:6.00px;top:737.20px;font-size:18px;line-height:18px;font-family:'Liberation Serif', serif;width:1066px;text-align:justify;text-align-last:justify;white-space:nowrap;">50 mM sodium borate buffer (NaBB) containing 10 mM sodium dithionite, overnight, under anaerobic conditions. Product yield and % <i>de</i> and <i>ee</i></div>
<div class="t " style="left:6.00px;top:758.20px;font-size:18px;line-height:18px;font-family:'Liberation Serif', serif;width:1066px;text-align:justify;text-align-last:justify;white-space:nowrap;">as determined by chiral supercritical fluid chromatography (SFC) analysis. Reported values are mean values from <i>n</i> &ge; 2 experiments (SE &lt; 15%)</div>
<div class="t " style="left:6.00px;top:779.20px;font-size:18px;line-height:18px;font-family:'Liberation Serif', serif;white-space:nowrap;word-spacing:2px;">N.a. = not active. <span style="font-weight:normal;font-style:italic;font-size:12.5px;position:relative;top:-8.5px;color:inherit;margin-left:1px;">b</span>Reaction time: 10 min (see <span style="color:#3b5ba5">Figure S1a</span> for complete time-course reaction profile).</div>
</body></html>
